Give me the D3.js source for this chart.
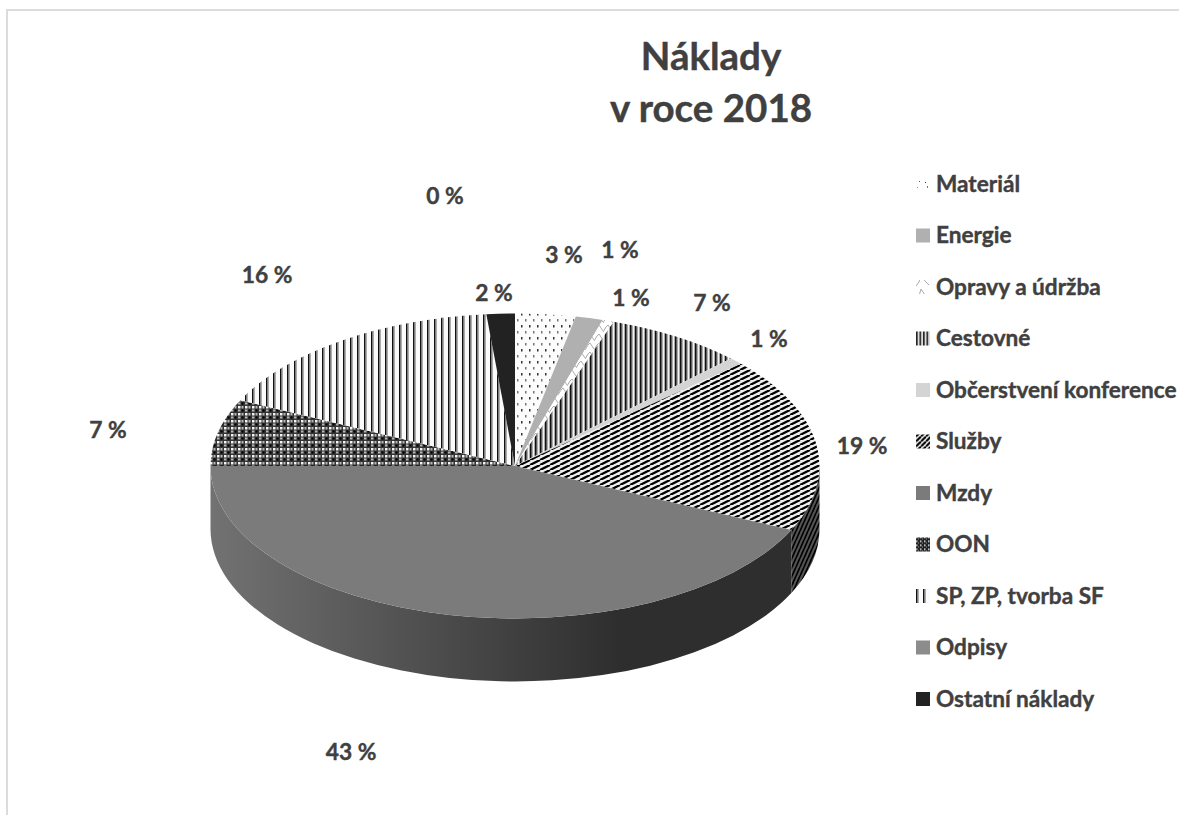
<!DOCTYPE html>
<html>
<head>
<meta charset="utf-8">
<script src="https://cdn.jsdelivr.net/npm/d3@7"></script>
<style>
body { margin: 0; background: #fff; }
text { font-family: Lato, sans-serif; font-weight: 700; fill: #404040; stroke: #404040; stroke-width: 0.4px; }
</style>
</head>
<body>
<div id="chart"></div>
<script>
const titleLines = ["Náklady", "v roce 2018"];
const categories = ["Materiál", "Energie", "Opravy a údržba", "Cestovné", "Občerstvení konference",
    "Služby", "Mzdy", "OON", "SP, ZP, tvorba SF", "Odpisy", "Ostatní náklady"];
const shares = [3.2, 1.45, 0.6, 7.3, 0.75, 18.6, 43.1, 7.1, 16.4, 0, 1.5];
const fills = ["url(#p-dots)", "#b0b0b0", "url(#p-zigzag)", "url(#p-vdense)", "#d4d4d4",
    "url(#p-diag)", "#7b7b7b", "url(#p-check)", "url(#p-vsparse)", "#8c8c8c", "#222222"];
// legend keys show the hatches at a different scale than the slices
const keyFills = ["url(#k-dots)", "#b0b0b0", "url(#k-zigzag)", "url(#k-vdense)", "#d4d4d4",
    "url(#k-diag)", "#7b7b7b", "url(#k-check)", "url(#p-vsparse)", "#8c8c8c", "#222222"];

// data labels were placed by hand in the original, so they get their own layout table
const labelSpots = [[564, 255], [620, 250], [631, 298], [712, 303], [769, 339],
    [862, 446], [351, 752], [108, 430], [267, 275], [445, 196], [494, 293]];

const width = 1179, height = 832;
const cx = 515, cy = 466, rx = 304.5, ry = 152.5, depth = 63;

const svg = d3.select("#chart").append("svg")
    .attr("width", width)
    .attr("height", height)
    .style("display", "block");

const defs = svg.append("defs");

function addPattern(id, w, h, bg) {
    const p = defs.append("pattern")
        .attr("id", id)
        .attr("patternUnits", "userSpaceOnUse")
        .attr("width", w)
        .attr("height", h);
    p.append("rect").attr("width", w).attr("height", h).attr("fill", bg);
    return p;
}

function addBars(p, list) {
    list.forEach(([x, y, w, h, c]) => {
        p.append("rect").attr("x", x).attr("y", y).attr("width", w).attr("height", h).attr("fill", c);
    });
}

addBars(addPattern("p-dots", 8, 12, "#fcfcfc"), [[1, 1, 1.5, 2.5, "#333"], [5, 7, 1.5, 2.5, "#777"]]);
addBars(addPattern("k-dots", 14, 14, "#fff"), [[1, 3, 1, 1, "#999"], [11, 2, 1, 2, "#777"], [3, 11, 1, 1, "#555"], [9, 12, 1, 1, "#333"]]);

addPattern("p-zigzag", 9, 9, "#fff").append("path")
    .attr("d", "M0,8L3,3L5,1L9,7").attr("fill", "none").attr("stroke", "#aaa").attr("stroke-width", 1);
addPattern("k-zigzag", 14, 14, "#fff").append("path")
    .attr("d", "M0,13L3,9L5,2L9,8L13,12").attr("fill", "none").attr("stroke", "#aaa").attr("stroke-width", 1);

addBars(addPattern("p-vdense", 5, 8, "#aaa"), [[0, 0, 1.5, 8, "#111"], [3, 0, 1, 8, "#f2f2f2"]]);
addBars(addPattern("k-vdense", 3.5, 14, "#ddd"), [[0, 0, 1.6, 14, "#222"]]);

// hatch for the top of Služby, then the steeper dark one on its side wall
const hatch = (id, w, h, bg, sw, ink) => {
    const p = addPattern(id, w, h, bg);
    p.selectAll("path")
        .data([-1, 0, 1])
        .enter().append("path")
        .attr("d", k => `M${k * w},${h}L${(k + 1) * w},0`)
        .attr("stroke", ink)
        .attr("stroke-width", sw);
};
hatch("p-diag", 10, 5, "#f0f0f0", 2.3, "#000");
hatch("p-wall", 4, 9, "#555", 1.7, "#000");
hatch("k-diag", 5, 5, "#fff", 2.2, "#000");

addBars(addPattern("p-check", 7, 7, "#333"), [[0, 0, 2.5, 2.5, "#f5f5f5"], [3.5, 0, 2, 2.5, "#b5b5b5"], [0, 3.5, 2.5, 2, "#b5b5b5"], [3.5, 3.5, 2, 2, "#000"]]);
addBars(addPattern("k-check", 4, 4, "#222"), [[0, 0, 1.5, 1.5, "#eee"], [2, 2, 1, 1, "#999"]]);

addBars(addPattern("p-vsparse", 7, 8, "#fbfbfb"), [[0, 0, 1.6, 8, "#111"], [1.6, 0, 1.2, 8, "#999"]]);

const sideGrad = defs.append("linearGradient")
    .attr("id", "side-grad")
    .attr("gradientUnits", "userSpaceOnUse")
    .attr("x1", cx - rx).attr("x2", cx + 105)
    .attr("y1", 0).attr("y2", 0);
sideGrad.append("stop").attr("offset", 0).attr("stop-color", "#727272");
sideGrad.append("stop").attr("offset", 1).attr("stop-color", "#2e2e2e");

// chart frame, only top and left survive in the source picture
svg.append("path")
    .attr("d", `M7,815V10H${width}`)
    .attr("fill", "none")
    .attr("stroke", "#dcdcdc")
    .attr("stroke-width", 2);

const colour = d3.scaleOrdinal().domain(categories).range(fills);
const keyColour = d3.scaleOrdinal().domain(categories).range(keyFills);

const slices = d3.pie().sort(null).value(d => d.share)(
    categories.map((name, i) => ({ name, share: shares[i], spot: labelSpots[i] })));

const px = a => cx + rx * Math.sin(a);
const py = a => cy - ry * Math.cos(a);

function topPath(d) {
    const large = d.endAngle - d.startAngle > Math.PI ? 1 : 0;
    return `M${cx},${cy}L${px(d.startAngle)},${py(d.startAngle)}` +
        `A${rx},${ry} 0 ${large} 1 ${px(d.endAngle)},${py(d.endAngle)}Z`;
}

// front wall only exists between 90 and 270 degrees
function wallPath(d) {
    const a0 = Math.max(d.startAngle, Math.PI / 2);
    const a1 = Math.min(d.endAngle, 3 * Math.PI / 2);
    if (a1 <= a0) return null;
    return `M${px(a0)},${py(a0)}A${rx},${ry} 0 0 1 ${px(a1)},${py(a1)}` +
        `V${py(a1) + depth}A${rx},${ry} 0 0 0 ${px(a0)},${py(a0) + depth}Z`;
}

const pie = svg.append("g");

pie.selectAll(".wall")
    .data(slices.filter(d => wallPath(d)))
    .enter().append("path")
    .attr("class", "wall")
    .attr("d", wallPath)
    .attr("fill", d => d.data.name === "Mzdy" ? "url(#side-grad)" : "url(#p-wall)");

pie.selectAll(".slice")
    .data(slices.filter(d => d.data.share > 0))
    .enter().append("path")
    .attr("class", "slice")
    .attr("d", topPath)
    .attr("fill", d => colour(d.data.name));

svg.selectAll(".pct")
    .data(slices)
    .enter().append("text")
    .attr("class", "pct")
    .attr("x", d => d.data.spot[0])
    .attr("y", d => d.data.spot[1])
    .attr("dy", "0.35em")
    .attr("text-anchor", "middle")
    .style("font-size", "22.8px")
    .text(d => `${Math.round(d.data.share)} %`);

svg.selectAll(".title")
    .data(titleLines)
    .enter().append("text")
    .attr("class", "title")
    .attr("x", 711)
    .attr("y", (d, i) => 70 + i * 52)
    .attr("text-anchor", "middle")
    .style("font-size", "38.5px")
    .text(d => d);

const rowY = d3.scalePoint().domain(categories).range([184, 699]);

const legend = svg.selectAll(".legend")
    .data(categories)
    .enter().append("g")
    .attr("class", "legend")
    .attr("transform", d => `translate(916,${rowY(d)})`);

legend.append("rect")
    .attr("y", -7)
    .attr("width", 14)
    .attr("height", 14)
    .attr("fill", d => keyColour(d));

legend.append("text")
    .attr("x", 20)
    .attr("dy", "0.35em")
    .style("font-size", "22.6px")
    .text(d => d);
</script>
</body>
</html>
